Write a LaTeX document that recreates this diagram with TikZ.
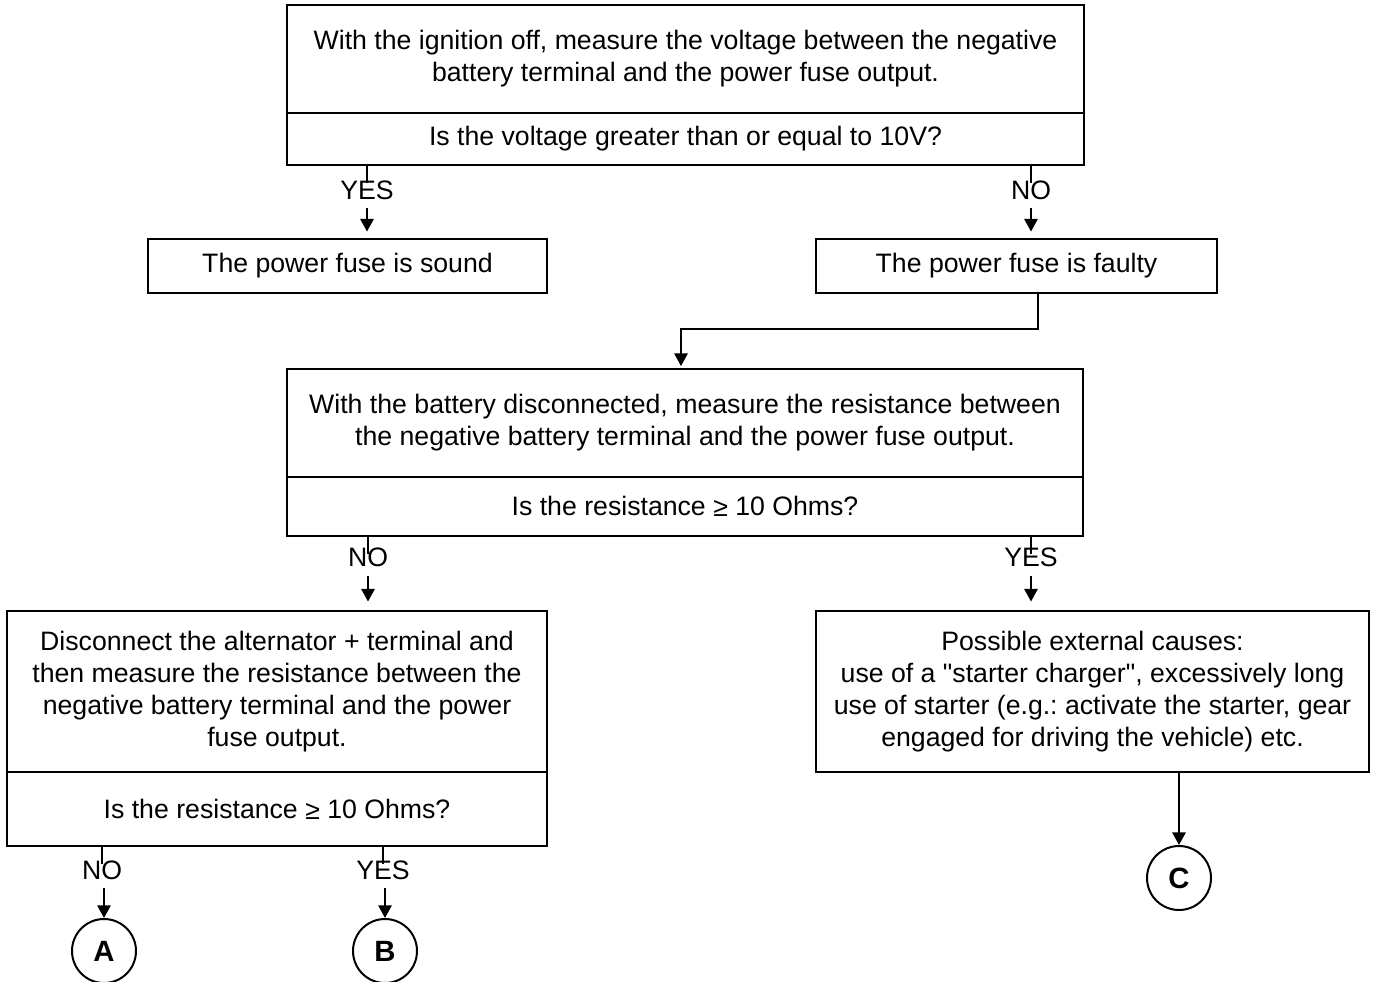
\documentclass[tikz,border=0pt]{standalone}
\usepackage{fontspec}
\setmainfont{Liberation Sans}[Ligatures=TeXOff]
\usetikzlibrary{arrows.meta}
\frenchspacing
\begin{document}
\begin{tikzpicture}[x=0.75pt,y=-0.75pt,
  box/.style 2 args={draw, line width=2.2pt, rectangle, inner sep=0pt, align=center,
    minimum width=#1*0.75pt, minimum height=#2*0.75pt, font=\fontsize{20}{24}\selectfont},
  lbl/.style={inner sep=0pt, font=\fontsize{20}{24}\selectfont},
  conn/.style={line width=1.5pt},
  arr/.style={line width=1.5pt, -{Triangle[length=9.5pt,width=10pt]}},
  term/.style={draw, circle, line width=1.5pt, minimum size=#1*0.75pt, inner sep=0pt,
    font=\fontsize{22}{24}\selectfont\bfseries}]
\useasboundingbox (0,0) rectangle (1373,981);

% first question
\node[box={797}{108}] (q1a) at (685.5,59) {With the ignition off, measure the voltage between the negative\\battery terminal and the power fuse output.};
\node[box={797}{52}] (q1b) at (685.5,139) {Is the voltage greater than or equal to 10V?};

\node[lbl] (yes1) at (367,190) {YES};
\node[lbl] (no1) at (1031,190) {NO};

\node[box={399}{54}] (sound) at (347.5,266) {The power fuse is sound};
\node[box={401}{54}] (faulty) at (1016.5,266) {The power fuse is faulty};

\draw[conn] (q1b.south -| yes1) -- ++(0,17);
\draw[conn] (q1b.south -| no1) -- ++(0,17);
\draw[arr, shorten >=4.5pt] ([yshift=-13.5pt]yes1.center) -- (sound.north -| yes1);
\draw[arr, shorten >=4.5pt] ([yshift=-13.5pt]no1.center) -- (faulty.north -| no1);

% second question
\node[box={796}{108}] (q2a) at (685,423) {With the battery disconnected, measure the resistance between\\the negative battery terminal and the power fuse output.};
\node[box={796}{59}] (q2b) at (685,506.5) {Is the resistance \raisebox{-1pt}{≥} 10 Ohms?};

\draw[arr, shorten >=1.1pt] ([xshift=16.1pt]faulty.south) -- ++(0,35) -| ([xshift=-3pt]q2a.north);

\node[lbl] (no2) at (368,557) {NO};
\node[lbl] (yes2) at (1031,557) {YES};

\node[box={540}{161}] (q3a) at (277,691.5) {Disconnect the alternator + terminal and\\then measure the resistance between the\\negative battery terminal and the power\\fuse output.};
\node[box={540}{74}] (q3b) at (277,809) {Is the resistance \raisebox{-1pt}{≥} 10 Ohms?};

\node[box={553}{161}] (causes) at (1092.5,691.5) {Possible external causes:\\use of a "starter charger", excessively long\\use of starter (e.g.: activate the starter, gear\\engaged for driving the vehicle) etc.};

\draw[conn] (q2b.south -| no2) -- ++(0,17);
\draw[conn] (q2b.south -| yes2) -- ++(0,17);
\draw[arr, shorten >=6pt] ([yshift=-14pt]no2.center) -- (q3a.north -| no2);
\draw[arr, shorten >=6pt] ([yshift=-14pt]yes2.center) -- (causes.north -| yes2);

% exits
\node[lbl] (no3) at (102,870) {NO};
\node[lbl] (yes3) at (383,870) {YES};

\node[term=64] (A) at (104,951) {A};
\node[term=64] (B) at (385,951) {B};
\node[term=64] (C) at (1179,878) {C};

\draw[conn] (q3b.south -| no3) -- ++(0,17);
\draw[conn] (q3b.south -| yes3) -- ++(0,17);
\draw[arr] ([yshift=-13.5pt]no3.center -| A) -- (A.north);
\draw[arr] ([yshift=-13.5pt]yes3.center -| B) -- (B.north);
\draw[arr] (causes.south -| C) -- (C.north);
\end{tikzpicture}
\end{document}
